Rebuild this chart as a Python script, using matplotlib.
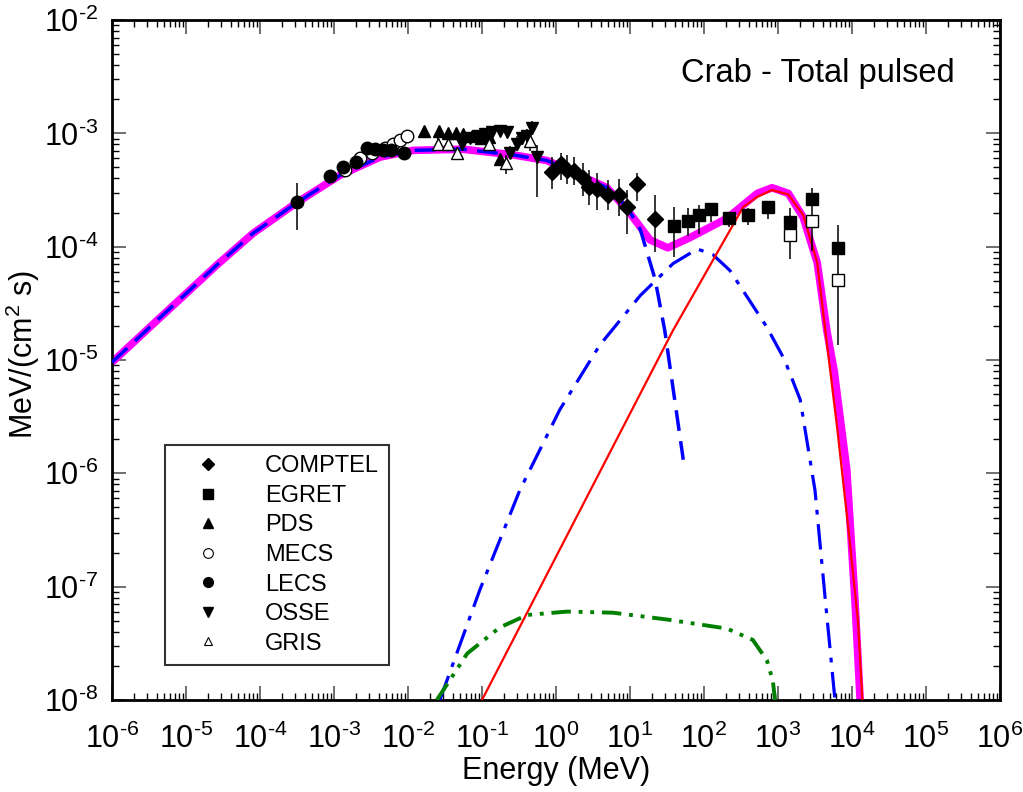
import numpy as np
import matplotlib
matplotlib.use('Agg')
import matplotlib.pyplot as plt
from matplotlib.lines import Line2D
from matplotlib.ticker import LogLocator, FuncFormatter, NullFormatter

plt.rcParams['font.family'] = ['Liberation Sans', 'DejaVu Sans']
plt.rcParams['mathtext.fontset'] = 'custom'
plt.rcParams['mathtext.rm'] = 'Liberation Sans'

# Values are log10(E / MeV) and log10(flux)

# model curves
total_logE = [-6.0, -5.39, -4.58, -4.09, -3.5, -2.92, -2.38, -1.93, -1.26, -0.58, -0.12,
              0.69, 0.97, 1.27, 1.51, 1.81, 2.31, 2.72, 2.92, 3.14, 3.34, 3.53, 3.66,
              3.76, 3.93, 4.04, 4.11]
total_logF = [-5.02, -4.65, -4.16, -3.88, -3.61, -3.37, -3.21, -3.15, -3.14, -3.19, -3.24,
              -3.48, -3.68, -3.94, -4.01, -3.92, -3.75, -3.53, -3.48, -3.53, -3.74, -4.14, -4.74,
              -5.10, -5.97, -7.12, -8.0]

sync_logE = [-6.0, -5.39, -4.58, -4.09, -3.5, -2.92, -2.38, -1.93, -1.26, -0.58, -0.12,
             0.69, 0.96, 1.14, 1.34, 1.47, 1.72]
sync_logF = [-5.02, -4.65, -4.16, -3.88, -3.61, -3.37, -3.21, -3.15, -3.14, -3.19, -3.24,
             -3.48, -3.65, -3.85, -4.29, -4.74, -5.88]

ic_logE = [-1.57, -1.03, -0.49, 0.05, 0.59, 1.14, 1.58, 1.91, 2.12, 2.35, 2.85, 3.09,
           3.30, 3.50, 3.64, 3.77]
ic_logF = [-8.0, -7.03, -6.15, -5.44, -4.87, -4.43, -4.15, -4.02, -4.07, -4.21, -4.71, -5.0,
           -5.35, -6.15, -7.12, -8.0]

curv_logE = [-1.0, 1.58, 2.53, 2.72, 2.92, 3.14, 3.34, 3.53, 3.64, 3.8, 3.97, 4.08, 4.14]
curv_logF = [-8.0, -4.74, -3.65, -3.56, -3.5, -3.54, -3.72, -4.14, -4.74, -5.6, -6.6, -7.3, -8.0]

pair_logE = [-1.61, -1.2, -0.76, -0.39, 0.15, 0.77, 1.5, 2.31, 2.66, 2.85, 2.93, 2.96]
pair_logF = [-8.0, -7.59, -7.36, -7.25, -7.22, -7.23, -7.29, -7.37, -7.47, -7.65, -7.83, -8.0]

# data points: logE, logF, lower, upper
comptel_logE = [-0.05, 0.07, 0.15, 0.24, 0.36, 0.45, 0.55, 0.70, 0.85, 0.96, 1.09, 1.34]
comptel_logF = [-3.34, -3.27, -3.32, -3.33, -3.39, -3.47, -3.49, -3.54, -3.54, -3.65, -3.45, -3.76]
comptel_lo = [-3.49, -3.41, -3.45, -3.46, -3.55, -3.63, -3.68, -3.68, -3.73, -3.89, -3.60, -4.05]
comptel_hi = [-3.21, -3.17, -3.19, -3.21, -3.26, -3.32, -3.35, -3.41, -3.40, -3.50, -3.35, -3.54]

egret_logE = [1.59, 1.78, 1.93, 2.09, 2.34, 2.59, 2.86, 3.16, 3.46, 3.81]
egret_logF = [-3.82, -3.77, -3.72, -3.67, -3.75, -3.72, -3.65, -3.78, -3.58, -4.01]
egret_lo = [-4.09, -3.91, -3.89, -3.78, -3.83, -3.81, -3.76, -4.11, -4.04, -4.87]
egret_hi = [-3.65, -3.66, -3.63, -3.62, -3.71, -3.66, -3.61, -3.66, -3.48, -3.81]

egret2_logE = [3.16, 3.46, 3.81]
egret2_logF = [-3.90, -3.77, -4.29]

pds_logE = [-1.78, -1.58, -1.46, -1.35, -1.26, -1.14, -1.02, -0.90, -0.76]
pds_logF = [-2.98, -2.98, -3.00, -3.00, -3.01, -3.02, -3.04, -3.03, -3.23]

mecs_logE = [-2.85, -2.65, -2.49, -2.31, -2.20, -2.11, -2.01]
mecs_logF = [-3.32, -3.22, -3.17, -3.13, -3.09, -3.06, -3.02]

lecs_logE = [-3.50, -3.05, -2.88, -2.70, -2.55, -2.45, -2.34, -2.23, -2.05]
lecs_logF = [-3.61, -3.38, -3.30, -3.25, -3.13, -3.14, -3.15, -3.15, -3.17]
lecs_lo = [-3.85, -3.44, -3.35, -3.30, -3.17, -3.18, -3.19, -3.19, -3.23]
lecs_hi = [-3.44, -3.33, -3.25, -3.20, -3.09, -3.10, -3.11, -3.11, -3.12]

osse_logE = [-1.27, -1.16, -1.05, -0.96, -0.86, -0.76, -0.66, -0.62, -0.53, -0.46, -0.39,
             -0.32, -0.26]
osse_logF = [-3.09, -3.04, -3.02, -3.01, -2.99, -2.98, -2.99, -3.17, -3.09, -3.04, -3.02,
             -2.95, -3.21]
osse_lo = [-3.13, -3.08, -3.06, -3.05, -3.03, -3.02, -3.04, -3.23, -3.16, -3.10, -3.08,
           -3.01, -3.56]
osse_hi = [-3.05, -3.00, -2.98, -2.97, -2.95, -2.94, -2.94, -3.11, -3.02, -2.98, -2.96,
           -2.89, -3.10]

gris_logE = [-1.59, -1.46, -1.34, -0.91, -0.68, -0.35]
gris_logF = [-3.09, -3.09, -3.17, -3.09, -3.26, -3.07]
gris_lo = [-3.14, -3.14, -3.22, -3.15, -3.36, -3.16]
gris_hi = [-3.04, -3.04, -3.12, -3.03, -3.19, -2.98]


def p(v):
    return 10 ** np.asarray(v, dtype=float)


def errplot(ax, logE, logF, lo, hi, **kw):
    x, y = p(logE), p(logF)
    yerr = [y - p(lo), p(hi) - y]
    ax.errorbar(x, y, yerr=yerr, fmt='none', ecolor='black', elinewidth=1.1, zorder=4)
    ax.plot(x, y, linestyle='none', zorder=5, **kw)


def decade_label(v, pos):
    n = int(round(np.log10(v)))
    if n < 0:
        return r'$\mathregular{10^{\text{-}%d}}$' % (-n)
    return r'$\mathregular{10^{%d}}$' % n


fig = plt.figure(figsize=(10.23, 7.92), dpi=100)
ax = fig.add_axes([0.1095, 0.1162, 0.868, 0.8585])

ax.plot(p(total_logE), p(total_logF), color='#ff00ff', lw=5.5, solid_joinstyle='round', zorder=2)
ax.plot(p(sync_logE), p(sync_logF), color='#0000ff', lw=2.5, dashes=(6, 3), zorder=3)
ax.plot(p(ic_logE), p(ic_logF), color='#0000ff', lw=2.3, dashes=(8, 3, 1.5, 3), zorder=3)
ax.plot(p(curv_logE), p(curv_logF), color='#ff0000', lw=1.6, zorder=3)
ax.plot(p(pair_logE), p(pair_logF), color='#008000', lw=2.8, dashes=(5, 2, 1, 2, 1, 2), zorder=3)

errplot(ax, comptel_logE, comptel_logF, comptel_lo, comptel_hi,
        marker='D', ms=8, color='black')
errplot(ax, egret_logE, egret_logF, egret_lo, egret_hi,
        marker='s', ms=9, color='black')
ax.plot(p(egret2_logE), p(egret2_logF), linestyle='none', marker='s', ms=9,
        mfc='white', mec='black', mew=1.0, zorder=5)
ax.plot(p(pds_logE), p(pds_logF), linestyle='none', marker='^', ms=9, color='black', zorder=5)
ax.plot(p(mecs_logE), p(mecs_logF), linestyle='none', marker='o', ms=9,
        mfc='white', mec='black', mew=1.0, zorder=5)
errplot(ax, lecs_logE, lecs_logF, lecs_lo, lecs_hi, marker='o', ms=9, color='black')
errplot(ax, osse_logE, osse_logF, osse_lo, osse_hi, marker='v', ms=9, color='black')
errplot(ax, gris_logE, gris_logF, gris_lo, gris_hi, marker='^', ms=9,
        mfc='white', mec='black', mew=1.0)

ax.set_xscale('log')
ax.set_yscale('log')
ax.set_xlim(1e-6, 1e6)
ax.set_ylim(1e-8, 1e-2)

ax.xaxis.set_major_locator(LogLocator(base=10, numticks=20))
ax.yaxis.set_major_locator(LogLocator(base=10, numticks=20))
ax.xaxis.set_minor_locator(LogLocator(base=10, subs=np.arange(2, 10), numticks=20))
ax.yaxis.set_minor_locator(LogLocator(base=10, subs=np.arange(2, 10), numticks=20))
ax.xaxis.set_major_formatter(FuncFormatter(decade_label))
ax.yaxis.set_major_formatter(FuncFormatter(decade_label))
ax.xaxis.set_minor_formatter(NullFormatter())
ax.yaxis.set_minor_formatter(NullFormatter())
ax.tick_params(which='both', direction='in', top=True, right=True, labelsize=22)
ax.tick_params(which='major', length=10, width=1.2, color='#555555')
ax.tick_params(which='minor', length=5, width=1.0)
ax.tick_params(axis='x', which='major', pad=17)
ax.tick_params(axis='y', which='major', pad=10)
for s in ax.spines.values():
    s.set_linewidth(2)

ax.set_xlabel('Energy (MeV)', fontsize=22, labelpad=1)
fig.text(0.0225, 0.553, r'MeV/(cm$^\mathregular{2}$ s)', fontsize=22,
         rotation=90, ha='center', va='center')

ax.text(0.949, 0.922, 'Crab - Total pulsed', transform=ax.transAxes,
        ha='right', va='center', fontsize=23.5)

handles = [
    Line2D([], [], ls='none', marker='D', ms=6, color='black'),
    Line2D([], [], ls='none', marker='s', ms=7, color='black'),
    Line2D([], [], ls='none', marker='^', ms=7, color='black'),
    Line2D([], [], ls='none', marker='o', ms=7, mfc='white', mec='black', mew=0.8),
    Line2D([], [], ls='none', marker='o', ms=7, color='black'),
    Line2D([], [], ls='none', marker='v', ms=7, color='black'),
    Line2D([], [], ls='none', marker='^', ms=6, mfc='white', mec='black', mew=0.8),
]
labels = ['COMPTEL', 'EGRET', 'PDS', 'MECS', 'LECS', 'OSSE', 'GRIS']
leg = ax.legend(handles, labels, loc='lower left', bbox_to_anchor=(0.06, 0.052),
                fontsize=17, frameon=True, fancybox=False, borderpad=0.42,
                labelspacing=0.32, handletextpad=1.0, handlelength=2.8,
                borderaxespad=0)
leg.get_frame().set_edgecolor('black')
leg.get_frame().set_linewidth(1.5)

fig.savefig('out.png', dpi=100)
